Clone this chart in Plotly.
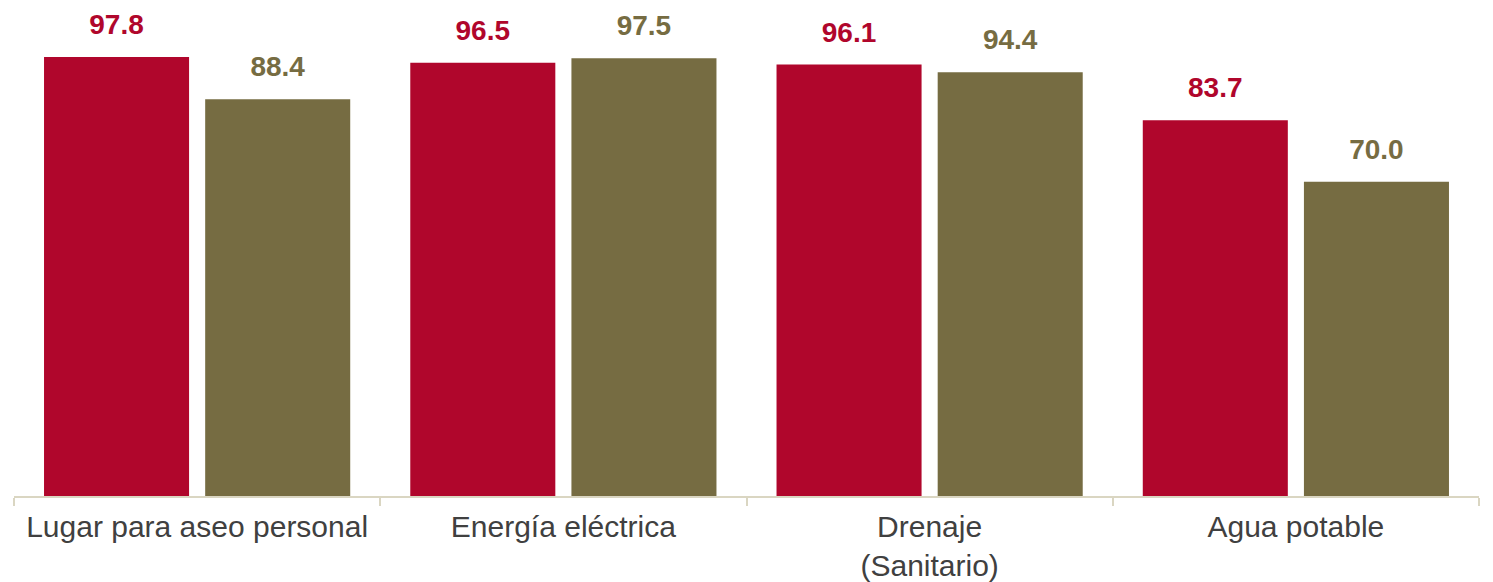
import plotly.graph_objects as go

categories = ["Lugar para aseo personal", "Energía eléctrica", "Drenaje<br>(Sanitario)", "Agua potable"]
serie_a = [97.8, 96.5, 96.1, 83.7]
serie_b = [88.4, 97.5, 94.4, 70.0]

RED = "#B0062C"
OLIVE = "#766C42"
AXIS = "#DAD6C2"

fig = go.Figure()

for name, vals, color in [("A", serie_a, RED), ("B", serie_b, OLIVE)]:
    fig.add_trace(go.Bar(
        x=categories, y=vals, name=name,
        marker=dict(color=color, line=dict(width=0)),
        offsetgroup=name,
        hoverinfo="skip",
    ))
    # value labels, aligned with bars through scattermode='group'
    fig.add_trace(go.Scatter(
        x=categories, y=vals, name=name + " labels",
        mode="markers+text",
        marker=dict(size=24, opacity=0),
        text=[f"{v:.1f}" for v in vals],
        textposition="top center",
        textfont=dict(family="Liberation Sans, Arial", size=28, color=color, weight="bold"),
        offsetgroup=name,
        cliponaxis=False,
        hoverinfo="skip",
    ))

# page body has an 8px margin, so the figure is sized to fit the window
fig.update_layout(
    width=1485, height=574,
    margin=dict(l=6, r=14, t=0, b=86),
    barmode="group", bargap=0.12, bargroupgap=0.1,
    scattermode="group", scattergap=0.12,
    showlegend=False,
    plot_bgcolor="white", paper_bgcolor="white",
    font=dict(family="Liberation Sans, Arial", color="#404040"),
    xaxis=dict(
        showline=True, linecolor=AXIS, linewidth=2,
        ticks="outside", tickson="boundaries", ticklen=8, tickcolor=AXIS, tickwidth=2,
        tickfont=dict(size=30, color="#404040"),
        ticklabelstandoff=3,
        automargin=False,
        showgrid=False, zeroline=False,
    ),
    yaxis=dict(range=[0, 108.7], visible=False, showgrid=False, zeroline=False, automargin=False),
)

fig.write_html("out.html")
